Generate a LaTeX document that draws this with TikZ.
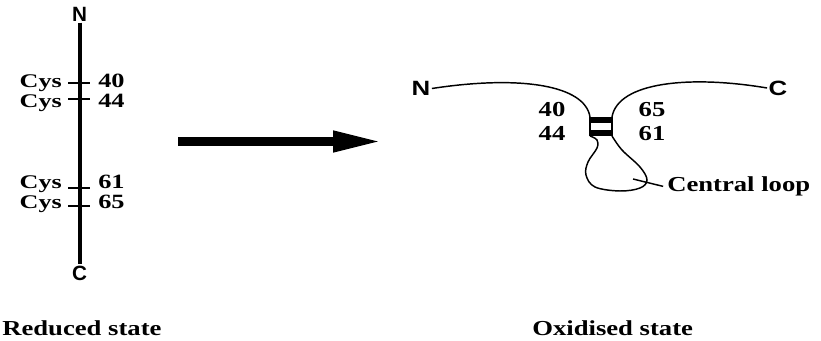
\documentclass[tikz,border=0pt]{standalone}
\usepackage{fontspec}
\setmainfont{Liberation Serif}
\newfontfamily\helv{Liberation Sans}
\usetikzlibrary{arrows.meta}
\newcommand{\wide}[1]{\scalebox{1.25}[1]{#1}}
\tikzset{
  lbl/.style={font=\fontsize{16}{18}\selectfont\bfseries,inner sep=0pt,text height=0.7em,text depth=0pt},
  cys/.style={font=\fontsize{14.5}{16}\selectfont\bfseries,inner sep=0pt,anchor=base east},
  num/.style={font=\fontsize{15.2}{17}\selectfont\bfseries,inner sep=0pt,anchor=base west},
  term/.style={font=\fontsize{15.5}{17}\selectfont\helv\bfseries,inner sep=1pt},
  strand/.style={line width=1.1pt},
  tick/.style={line width=1.5pt},
}

\begin{document}
\begin{tikzpicture}[x=0.75pt,y=-0.75pt]
\useasboundingbox (0,0) rectangle (821,341);
% reduced state
\node[term] (lN) at (79.5,14) {N};
\node[term] (lC) at (79.5,273) {C};
\draw[line width=3pt] (lN) -- (lC);
\foreach \y/\n/\b in {83/40/87.5,99/44/107.7,188/61/189,206/65/208.5}{
  \coordinate (tl\n) at (68,\y); \coordinate (tr\n) at (90,\y);
  \draw[tick] (tl\n) -- (tr\n);
  \node[cys] (cys\n) at (62,\b) {\scalebox{1.35}[1]{Cys}};
  \node[num] (num\n) at (98,\b) {\scalebox{1.3}[1]{\n}};
}
\node[lbl,anchor=base west] (red) at (2,336) {\wide{Reduced state}};
% arrow
\coordinate (a0) at (178,141.5); \coordinate (a1) at (383,141.5);
\draw[line width=6.75pt,-{Triangle[length=37.5pt,width=14.5pt]}] (a0) -- (a1);
% oxidised state
\node[term] (rN) at (421,88.5) {\wide{N}};
\node[term] (rC) at (778,88) {\wide{C}};
\coordinate (bl) at (590,117); \coordinate (br) at (612,117);
\coordinate (bbl) at (590,136); \coordinate (bbr) at (612,136);
\draw[strand] (rN.east) .. controls (520,75) and (585,85) .. (bl);
\draw[strand] (br) .. controls (618,82) and (690,75) .. (rC.west);
\fill (590,117) rectangle (612,123);
\fill (590,130) rectangle (612,136);
\draw[strand] (bl) -- (bbl) (br) -- (bbr);
\draw[strand] plot[smooth,tension=0.6] coordinates {(bbl) (597,140) (597,148) (588,162) (586,175) (595,187) (620,191) (640,188) (647,180) (640,167) (622,150) (bbr)};
\node[lbl,anchor=base] (o40) at (552,117) {\wide{40}};
\node[lbl,anchor=base] (o44) at (552,141) {\wide{44}};
\node[lbl,anchor=base] (o65) at (652,117) {\wide{65}};
\node[lbl,anchor=base] (o61) at (652,141) {\wide{61}};
\coordinate (lp) at (633,179);
\node[lbl,anchor=base west] (cl) at (667,192) {\wide{Central loop}};
\draw[strand,shorten >=3pt] (lp) -- (cl.west);
\node[lbl,anchor=base west] (ox) at (532,336) {\wide{Oxidised state}};
\end{tikzpicture}
\end{document}
